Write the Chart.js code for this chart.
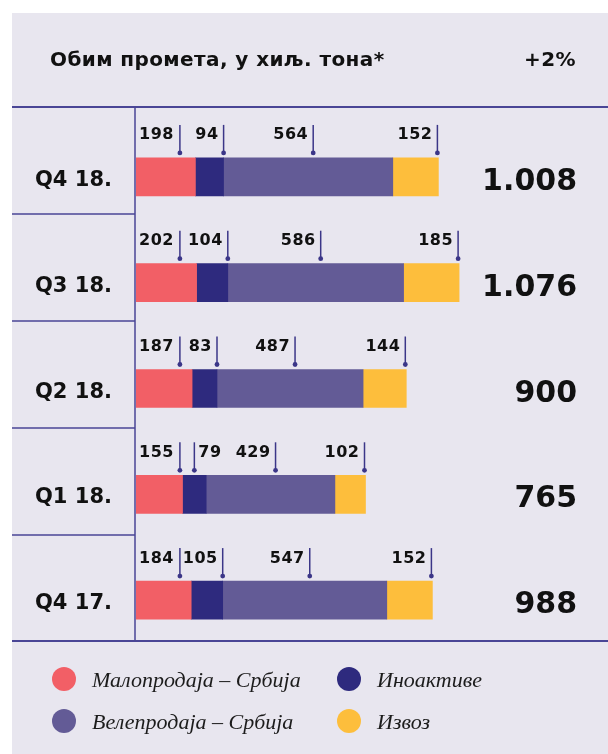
<!DOCTYPE html>
<html>
<head>
<meta charset="utf-8">
<script src="https://cdn.jsdelivr.net/npm/chart.js@4/dist/chart.umd.min.js"></script>
<style>
  html, body { margin: 0; padding: 0; background: #ffffff; }
  #wrap { position: relative; width: 608px; height: 754px; overflow: hidden; }
  canvas { position: absolute; left: 0; top: 0; }
  .txt { position: absolute; white-space: nowrap; color: #111; }
  .title { font: 700 20px "DejaVu Sans", sans-serif; line-height: 24px; letter-spacing: 0.4px; }
  .leg { font: italic 22px "Liberation Serif", serif; line-height: 26px; color: #1c1c1c; }
  .dot { position: absolute; width: 24px; height: 24px; border-radius: 50%; }
</style>
</head>
<body>
<div id="wrap">
  <canvas id="c" width="608" height="754"></canvas>
  <div class="txt title" id="title" style="left:50px; top:47px;"></div>
  <div class="txt title" id="change" style="right:32px; top:47px;"></div>
  <div id="legend"></div>
</div>
<script>
// ---- data ----
const categories = ["Q4 18.", "Q3 18.", "Q2 18.", "Q1 18.", "Q4 17."];
const retailSerbia = [198, 202, 187, 155, 184];
const foreignAssets = [94, 104, 83, 79, 105];
const wholesaleSerbia = [564, 586, 487, 429, 547];
const exportVolume = [152, 185, 144, 102, 152];
const totalLabels = ["1.008", "1.076", "900", "765", "988"];
const seriesNames = ["Малопродаја – Србија", "Иноактиве", "Велепродаја – Србија", "Извоз"];
const chartTitle = "Обим промета, у хиљ. тона*";
const changeLabel = "+2%";

const colors = ["#f25f66", "#2e2a7e", "#635b96", "#fdbe3c"];
const lineColor = "#4a4696";
const pinColor = "#3b3688";
const panelColor = "#e8e6ef";

document.getElementById("title").textContent = chartTitle;
document.getElementById("change").textContent = changeLabel;

// legend (HTML)
const legendPos = [[52, 667], [337, 667], [52, 709], [337, 709]];
const legendOrder = [0, 1, 2, 3];
const legEl = document.getElementById("legend");
legendOrder.forEach((s, k) => {
  const [lx, ly] = legendPos[k];
  const d = document.createElement("div");
  d.className = "dot";
  d.style.left = lx + "px"; d.style.top = ly + "px"; d.style.background = colors[s];
  legEl.appendChild(d);
  const t = document.createElement("div");
  t.className = "txt leg";
  t.style.left = (lx + 40) + "px"; t.style.top = (ly - 0.5) + "px";
  t.textContent = seriesNames[s];
  legEl.appendChild(t);
});

const decorPlugin = {
  id: "decor",
  beforeDraw(chart) {
    const ctx = chart.ctx;
    ctx.save();
    ctx.fillStyle = "#ffffff";
    ctx.fillRect(0, 0, chart.width, chart.height);
    ctx.fillStyle = panelColor;
    ctx.fillRect(12, 13, chart.width - 12, chart.height - 13);
    ctx.strokeStyle = lineColor;
    ctx.lineWidth = 2;
    ctx.beginPath();
    ctx.moveTo(12, 107); ctx.lineTo(chart.width, 107);
    ctx.moveTo(12, 641); ctx.lineTo(chart.width, 641);
    ctx.stroke();
    ctx.lineWidth = 1.5;
    ctx.beginPath();
    ctx.moveTo(135, 107); ctx.lineTo(135, 641);
    [214, 321, 428, 535].forEach(y => { ctx.moveTo(12, y); ctx.lineTo(135, y); });
    ctx.stroke();
    ctx.restore();
  },
  afterDatasetsDraw(chart) {
    const ctx = chart.ctx;
    const area = chart.chartArea;
    ctx.save();
    const metas = [0, 1, 2, 3].map(d => chart.getDatasetMeta(d));
    const values = [retailSerbia, foreignAssets, wholesaleSerbia, exportVolume];
    categories.forEach((cat, i) => {
      const els = metas.map(m => m.data[i]);
      const cy = els[0].y;
      const top = cy - els[0].height / 2;
      ctx.letterSpacing = "0px";
      ctx.fillStyle = "#111";
      ctx.font = 'bold 21px "DejaVu Sans"';
      ctx.textAlign = "center";
      ctx.textBaseline = "alphabetic";
      ctx.fillText(cat, 73.5, cy + 9);
      ctx.font = 'bold 30px "DejaVu Sans"';
      ctx.textAlign = "right";
      ctx.fillText(totalLabels[i], 577, cy + 13);
      ctx.font = 'bold 16px "DejaVu Sans"';
      ctx.letterSpacing = "0.5px";
      const baseY = top - 18.5;
      const labels = values.map(v => String(v[i]));
      const pins = [];
      const placements = [];
      const x0 = area.left + 3;
      const w0 = ctx.measureText(labels[0]).width;
      pins[0] = x0 + w0 + 6;
      placements[0] = { x: x0, align: "left" };
      const w1 = ctx.measureText(labels[1]).width;
      if (els[1].x - 6 - w1 < pins[0] + 1) {
        pins[1] = (els[1].base + els[1].x) / 2;
        placements[1] = { x: pins[1] + 4, align: "left" };
      } else {
        pins[1] = els[1].x;
        placements[1] = { x: pins[1] - 5, align: "right" };
      }
      pins[2] = (els[2].base + els[2].x) / 2 + 5;
      placements[2] = { x: pins[2] - 5, align: "right" };
      pins[3] = els[3].x - 1;
      placements[3] = { x: pins[3] - 5, align: "right" };
      for (let s = 0; s < 4; s++) {
        ctx.fillStyle = "#111";
        ctx.textAlign = placements[s].align;
        ctx.fillText(labels[s], placements[s].x, baseY);
        ctx.strokeStyle = pinColor;
        ctx.lineWidth = 1.5;
        ctx.beginPath();
        ctx.moveTo(pins[s], top - 33);
        ctx.lineTo(pins[s], top - 5);
        ctx.stroke();
        ctx.fillStyle = pinColor;
        ctx.beginPath();
        ctx.arc(pins[s], top - 5, 2.4, 0, Math.PI * 2);
        ctx.fill();
      }
    });
    ctx.restore();
  }
};

const seriesData = [retailSerbia, foreignAssets, wholesaleSerbia, exportVolume];
new Chart(document.getElementById("c"), {
  type: "bar",
  data: {
    labels: categories,
    datasets: seriesData.map((d, s) => ({
      label: seriesNames[s],
      data: d,
      backgroundColor: colors[s],
      borderWidth: 0,
      barThickness: 38
    }))
  },
  options: {
    indexAxis: "y",
    responsive: false,
    animation: false,
    layout: { padding: { left: 136, right: 22, top: 124, bottom: 101 } },
    scales: {
      x: { stacked: true, min: 0, max: 1500, display: false },
      y: { stacked: true, display: false }
    },
    plugins: { legend: { display: false }, tooltip: { enabled: false } }
  },
  plugins: [decorPlugin]
});
</script>
</body>
</html>
